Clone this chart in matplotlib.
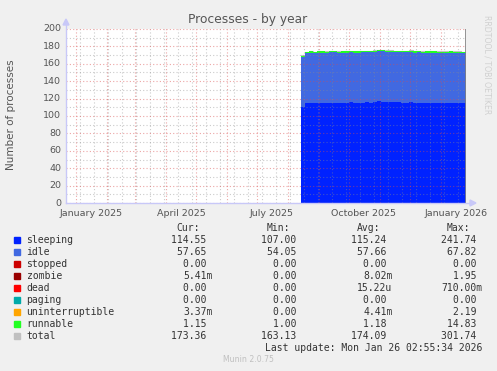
import matplotlib
matplotlib.use('Agg')
import matplotlib.pyplot as plt
import matplotlib.dates as mdates
from matplotlib.lines import Line2D
from matplotlib.patches import Polygon, Rectangle
import numpy as np
from datetime import datetime, timedelta

# ---------------- data ----------------
series_start = datetime(2025, 8, 14)
step_days = 4
sleeping = [110.5, 114.8, 115.2, 114.6, 115.0, 115.3, 114.9, 115.1, 115.4, 114.8,
            115.0, 115.2, 115.6, 115.1, 115.0, 115.3, 115.8, 115.5, 116.2, 117.0,
            116.4, 115.8, 116.0, 115.6, 115.9, 115.3, 115.5, 115.8, 115.1, 115.4,
            115.0, 115.2, 114.9, 115.1, 114.7, 115.0, 114.8, 114.9, 114.6, 114.8,
            114.5, 114.55]
idle = [57.3, 57.5, 57.7, 57.6, 57.8, 57.5, 57.6, 57.9, 57.7, 57.6,
        57.8, 57.5, 57.7, 57.6, 57.9, 57.8, 57.6, 57.7, 57.5, 57.6,
        57.8, 57.7, 57.6, 57.8, 57.5, 57.7, 57.6, 57.8, 57.7, 57.6,
        57.5, 57.7, 57.8, 57.6, 57.7, 57.5, 57.6, 57.7, 57.8, 57.6,
        57.7, 57.65]
runnable = [1.2, 1.2, 1.15, 1.2, 1.18, 1.2, 1.15, 1.2, 1.18, 1.2,
            1.15, 1.2, 1.18, 1.2, 1.15, 1.2, 1.18, 1.2, 1.15, 1.2,
            1.18, 1.2, 1.15, 1.2, 1.18, 1.2, 1.15, 1.2, 1.18, 1.2,
            1.15, 1.2, 1.18, 1.2, 1.15, 1.2, 1.18, 1.2, 1.15, 1.2,
            1.18, 1.15]

legend_names = ["sleeping", "idle", "stopped", "zombie", "dead", "paging",
                "uninterruptible", "runnable", "total"]
legend_colors = ["#0022ff", "#4169e1", "#cc0000", "#990000", "#ff0000",
                 "#00aaaa", "#ffa500", "#22ff22", "#c0c0c0"]
cur_vals = ["114.55 ", "57.65 ", "0.00 ", "5.41m", "0.00 ", "0.00 ", "3.37m", "1.15 ", "173.36 "]
min_vals = ["107.00 ", "54.05 ", "0.00 ", "0.00 ", "0.00 ", "0.00 ", "0.00 ", "1.00 ", "163.13 "]
avg_vals = ["115.24 ", "57.66 ", "0.00 ", "8.02m", "15.22u", "0.00 ", "4.41m", "1.18 ", "174.09 "]
max_vals = ["241.74 ", "67.82 ", "0.00 ", "1.95 ", "710.00m", "0.00 ", "2.19 ", "14.83 ", "301.74 "]

y_ticks = [0, 20, 40, 60, 80, 100, 120, 140, 160, 180, 200]
x_labels = ["January 2025", "April 2025", "July 2025", "October 2025", "January 2026"]
x_label_months = [(2025, 1), (2025, 4), (2025, 7), (2025, 10), (2026, 1)]

end_time = datetime(2026, 1, 26, 2, 55, 34)
start_time = end_time - timedelta(days=400)

# ---------------- figure ----------------
W, H = 497, 371
fig = plt.figure(figsize=(W / 100, H / 100), dpi=100, facecolor="#f0f0f0")
L, R, T, B = 66, 466, 29, 203
ax = fig.add_axes([L / W, 1 - B / H, (R - L) / W, (B - T) / H])
ax.set_facecolor("white")
for s in ax.spines.values():
    s.set_visible(False)

dates = [series_start + timedelta(days=step_days * i) for i in range(len(sleeping))]
dnum = mdates.date2num(dates + [end_time])
s_arr = np.array(sleeping + [sleeping[-1]])
i_arr = np.array(idle + [idle[-1]])
r_arr = np.array(runnable + [runnable[-1]])

base = np.zeros_like(s_arr)
for vals, col in [(s_arr, "#0022ff"), (i_arr, "#4169e1"), (r_arr, "#22ff22")]:
    ax.fill_between(dnum, base, base + vals, step="post", color=col, lw=0, zorder=2)
    base = base + vals
ax.step(dnum, base + 0.6, where="post", color="#c0c0c0", lw=0.8, zorder=1.9)
ax.fill_between(dnum, base - 0.6, base + 0.4, step="post", color="#22ff22", lw=0, zorder=2.2)

x0, x1 = mdates.date2num(start_time), mdates.date2num(end_time)
ax.set_xlim(x0, x1)
ax.set_ylim(0, 200)
ax.set_xticks([])
ax.set_yticks([])

# grid (on top of data, like rrdtool)
minor_col = (0.55, 0.55, 0.55, 0.45)
major_col = (0.85, 0.3, 0.3, 0.5)
dash = (0, (1, 2))
for v in range(10, 200, 20):
    ax.axhline(v, color=minor_col, lw=0.8, ls=dash, zorder=3)
for v in y_ticks:
    ax.axhline(v, color=major_col, lw=0.8, ls=dash, zorder=3.1)
d = datetime(2025, 1, 5)
while d < end_time:
    ax.axvline(mdates.date2num(d), color=minor_col, lw=0.8, ls=dash, zorder=3)
    d += timedelta(days=14)
y, m = 2025, 1
while datetime(y, m, 1) < end_time:
    ax.axvline(mdates.date2num(datetime(y, m, 1)), color=major_col, lw=0.8, ls=dash, zorder=3.1)
    m += 1
    if m > 12:
        m, y = 1, y + 1

# right "now" rule
ax.axvline(x1, color="#808080", lw=1.2, zorder=4)

# tick labels
txt_col = "#555555"
for v in y_ticks:
    ax.text(-0.012, v, str(v), transform=ax.get_yaxis_transform(), ha="right", va="center",
            fontsize=6.8, color=txt_col, family="DejaVu Sans")
for lab, (yy, mm) in zip(x_labels, x_label_months):
    xv = mdates.date2num(datetime(yy, mm, 16))
    ax.text(xv, -0.035, lab, transform=ax.get_xaxis_transform(), ha="center", va="top",
            fontsize=6.8, color=txt_col, family="DejaVu Sans")

# axis lines with arrows (figure pixel coords)
def px(xp, yp):
    return (xp / W, 1 - yp / H)

axis_col = "#c8c8f8"
fig.add_artist(Line2D([L / W, L / W], [1 - B / H, 1 - 24 / H], color=axis_col, lw=1))
fig.add_artist(Line2D([L / W, 470 / W], [1 - B / H, 1 - B / H], color=axis_col, lw=1))
fig.add_artist(Polygon([px(63, 25), px(69, 25), px(66, 19)], closed=True, color=axis_col))
fig.add_artist(Polygon([px(470, 200), px(470, 206), px(476, 203)], closed=True, color=axis_col))

# titles
fig.text(248 / W, 1 - 19 / H, "Processes - by year", ha="center", va="center",
         fontsize=8.8, color="#555555", family="DejaVu Sans")
fig.text(11 / W, 1 - 115 / H, "Number of processes", ha="center", va="center",
         rotation=90, fontsize=7.5, color="#555555", family="DejaVu Sans")
fig.text(487 / W, 1 - 15 / H, "RRDTOOL / TOBI OETIKER", ha="center", va="top",
         rotation=270, fontsize=5.6, color="#d0d0d0", family="DejaVu Sans")

# legend table
mono = "DejaVu Sans Mono"
fs = 7.0
lc = "#333333"
hy = 228
for hdr, xr in zip(["Cur:", "Min:", "Avg:", "Max:"], [200, 290, 380, 470]):
    fig.text(xr / W, 1 - hy / H, hdr, ha="right", va="center", fontsize=fs, color=lc, family=mono)
col_right = [212.5, 302.5, 392.5, 482.5]
for k, name in enumerate(legend_names):
    yy = 240 + 12 * k
    fig.add_artist(Rectangle(((14) / W, 1 - (yy + 3) / H), 6 / W, 6 / H, color=legend_colors[k]))
    fig.text(26.5 / W, 1 - yy / H, name, ha="left", va="center", fontsize=fs, color=lc, family=mono)
    for vals, xr in zip([cur_vals, min_vals, avg_vals, max_vals], col_right):
        fig.text(xr / W, 1 - yy / H, vals[k], ha="right", va="center", fontsize=fs, color=lc, family=mono)

fig.text(482.5 / W, 1 - 348 / H, "Last update: Mon Jan 26 02:55:34 2026", ha="right", va="center",
         fontsize=fs, color=lc, family=mono)
fig.text(248 / W, 1 - 360 / H, "Munin 2.0.75", ha="center", va="center",
         fontsize=5.6, color="#c0c0c0", family="DejaVu Sans")

fig.savefig("out.png", dpi=100, facecolor=fig.get_facecolor())
